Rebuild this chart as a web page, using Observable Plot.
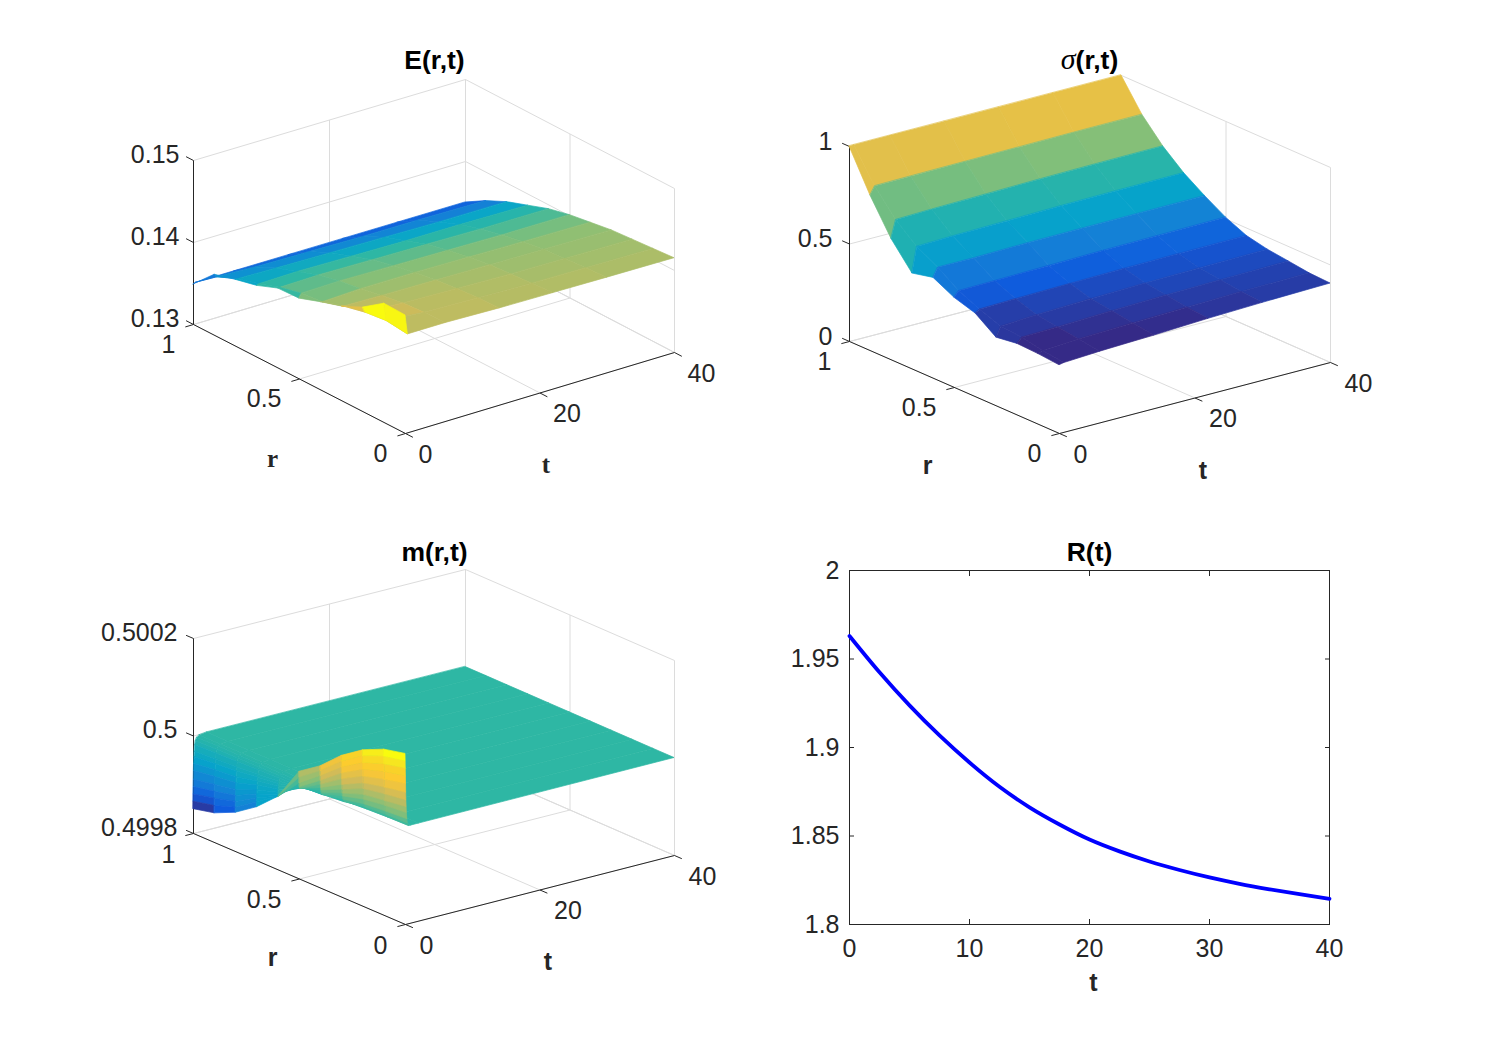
<!DOCTYPE html>
<html>
<head>
<meta charset="utf-8">
<script src="https://cdn.jsdelivr.net/npm/d3@7"></script>
<script src="https://cdn.jsdelivr.net/npm/@observablehq/plot@0.6"></script>
<style>
html,body{margin:0;padding:0;background:#fff}
#page{position:relative;width:1488px;height:1038px;overflow:hidden;background:#fff}
#page svg{position:absolute;background:transparent;overflow:visible}
</style>
</head>
<body>
<div id="page"></div>
<script>
// ---- data ----
const rGrid = [1, .9, .8, .7, .6, .5, .4, .3, .2, .1, 0];
const tTicks3D = [0, 20, 40];
const rTicks3D = [0, .5, 1];

const eTimes = [0, .35, 6, 14, 22, 30, 40];
const eRows = [
  [.13488,.1374,.1381,.1387,.1397,.1398,.1407,.1415,.1427,.1445,.1444],
  [.1350,.1370,.1381,.1388,.1397,.1403,.1406,.1414,.1420,.1423,.1420],
  [.1350,.1368,.1380,.1389,.1398,.1404,.1408,.1413,.1417,.1419,.1420],
  [.1350,.1367,.1379,.1388,.1397,.1403,.1408,.1412,.1415,.1417,.1418],
  [.1350,.1366,.1378,.1387,.1396,.1402,.1407,.1411,.1413,.1415,.1417],
  [.1350,.1366,.1377,.1387,.1395,.1401,.1406,.1410,.1412,.1414,.1416],
  [.1350,.1365,.1377,.1386,.1395,.1401,.1405,.1409,.1411,.1413,.1415]
];
const eTicks = [.13, .14, .15];
const eColorStops = [.1350,.1363,.1377,.1386,.1397,.1408,.1424,.1432,.1437,.1441,.1445];

const sTimes = [0, .7, 6, 14, 22, 30, 40];
const sRows = [
  [1,.795,.62,.49,.515,.46,.427,.35,.365,.36,.35],
  [1,.836,.71,.62,.56,.487,.44,.40,.39,.37,.355],
  [1,.838,.715,.625,.56,.49,.445,.41,.395,.38,.365],
  [1,.84,.72,.63,.565,.495,.45,.42,.405,.39,.375],
  [1,.842,.725,.635,.567,.5,.455,.427,.413,.398,.388],
  [1,.844,.728,.638,.568,.503,.458,.432,.418,.405,.397],
  [1,.845,.73,.64,.57,.507,.46,.437,.424,.41,.405]
];
const sTicks = [0, .5, 1];
const sColorStops = [.37,.445,.50,.57,.65,.73,.81,.88,.94,.98,1];

const mTimes = [0, .02, .04, .06, .08, .1, .13, .17, .2, .27, .35, .55, .9, 2, 40];
// m(r,t) read as its deviation from 0.5, in units of 1e-5
const mDeviation = [
  [-15,-14,-12,-9,-5,2,5,9,12,14,15],
  [-13.5,-12.5,-11,-8,-5,.8,4,7.8,10.8,12.6,13.5],
  [-12,-11,-9.8,-7.2,-5,-.4,3,6.6,9.4,11,12],
  [-10.5,-9.6,-8.6,-6.4,-4.6,-1.2,2,5.4,8,9.4,10.4],
  [-9,-8.2,-7.4,-5.6,-4.2,-1.5,1.2,4.2,6.6,7.8,8.8],
  [-7.2,-6.6,-6,-4.6,-3.6,-1.5,.5,3,5.2,6.2,7],
  [-5.8,-5.2,-4.8,-3.8,-3,-1.5,0,2,4,4.8,5.4],
  [-4.4,-4,-3.6,-3,-2.5,-1.4,-.5,1.2,2.8,3.4,4],
  [-3.3,-3,-2.8,-2.4,-2,-1.3,-.8,.6,1.8,2.4,2.8],
  [-2,-1.8,-1.7,-1.5,-1.4,-1.2,-1,-.1,.8,1.2,1.5],
  [-1.2,-1.1,-1,-1,-.9,-1,-1,-.6,.2,.5,.6],
  [-.6,-.5,-.5,-.5,-.5,-.6,-.8,-.6,-.3,-.1,0],
  [-.2,-.2,-.2,-.2,-.2,-.3,-.4,-.4,-.2,-.1,0],
  [0,0,0,0,0,0,0,0,0,0,0],
  [0,0,0,0,0,0,0,0,0,0,0]
];
const mRows = mDeviation.map(row => row.map(d => .5 + d*1e-5));
const mTicks = [.4998, .5, .5002];
const mColorStops = [.49985,.49988,.49991,.49995,.5,.50003,.500065,.5001,.50012,.500135,.50015];

const parula = ["#352a87","#0f5cdd","#1481d6","#06a4ca","#2eb7a4","#87bf77","#d1bb59","#fec832","#f9d229","#f6e620","#f9fb0e"];

const rTimes = [0,2.5,5,7.5,10,12.5,15,17.5,20,22.5,25,27.5,30,32.5,35,37.5,40];
const rValues = [1.963,1.9425,1.9238,1.9068,1.8915,1.8778,1.8662,1.8565,1.848,1.8413,1.8356,1.8308,1.8266,1.823,1.8199,1.8171,1.8145];
const rPanelXTicks = [0,10,20,30,40];
const rPanelYTicks = [1.8,1.85,1.9,1.95,2];

// ---- layout ----
const FONT = "Liberation Sans";
const TICK_SIZE = 25, TITLE_SIZE = 26.5, LABEL_SIZE = 25;
const INK = "#262626", GRID = "#dcdcdc";
const page = document.getElementById("page");
const W = 744, H = 519;

function place(svg, ox, oy){ svg.style.left = ox+"px"; svg.style.top = oy+"px"; page.appendChild(svg); return svg; }

function surfacePanel(p){
  const [z0, z1] = [p.zTicks[0], p.zTicks[p.zTicks.length-1]];
  const proj = (t, r, z) => ({
    x: p.O[0] + (t/40)*(p.T[0]-p.O[0]) + r*(p.R[0]-p.O[0]) + (t/40)*r*(p.B[0]-p.T[0]-p.R[0]+p.O[0]),
    y: p.O[1] + (t/40)*(p.T[1]-p.O[1]) + r*(p.R[1]-p.O[1]) + (t/40)*r*(p.B[1]-p.T[1]-p.R[1]+p.O[1]) - (z-z0)/(z1-z0)*p.h
  });
  const seg = (a, b) => { const A = proj(...a), B = proj(...b); return {x1:A.x,y1:A.y,x2:B.x,y2:B.y}; };

  const grid = [];
  for (const z of p.zTicks){
    grid.push(seg([0,1,z],[40,1,z]), seg([40,1,z],[40,0,z]));
  }
  for (const t of tTicks3D){
    grid.push(seg([t,1,z0],[t,1,z1]), seg([t,0,z0],[t,1,z0]));
  }
  for (const r of rTicks3D){
    grid.push(seg([40,r,z0],[40,r,z1]), seg([0,r,z0],[40,r,z0]));
  }
  const axes = [seg([0,1,z0],[0,1,z1]), seg([0,0,z0],[0,1,z0]), seg([0,0,z0],[40,0,z0])];
  for (const z of p.zTicks) axes.push(seg([0,1,z],[0,1.035,z]));
  for (const r of rTicks3D) axes.push(seg([0,r,z0],[-1.2,r,z0]));
  for (const t of tTicks3D) axes.push(seg([t,0,z0],[t,-.035,z0]));

  const quads = [];
  let q = 0;
  for (let j = p.times.length-2; j >= 0; j--){
    for (let i = 0; i < rGrid.length-1; i++){
      const c = p.rows[(j===0 && p.curtainNext) ? 1 : j][i+1];
      const a = proj(p.times[j], rGrid[i], p.rows[j][i]);
      const b = proj(p.times[j], rGrid[i+1], p.rows[j][i+1]);
      const d = proj(p.times[j+1], rGrid[i], p.rows[j+1][i]);
      const e = proj(p.times[j+1], rGrid[i+1], p.rows[j+1][i+1]);
      quads.push({q, c, x1:a.x, y1:a.y, x2:d.x, y2:d.y});
      quads.push({q, c, x1:b.x, y1:b.y, x2:e.x, y2:e.y});
      q++;
    }
  }

  const zLabels = p.zTicks.map(z => { const a = proj(0,1,z); return {x:a.x+p.zOff[0], y:a.y+p.zOff[1], s:p.zFmt(z)}; });
  const rLabels = rTicks3D.map(r => { const a = proj(0,r,z0); return {x:a.x+p.rOff[0], y:a.y+p.rOff[1], s:String(r)}; });
  const tLabels = tTicks3D.map(t => { const a = proj(t,0,z0); return {x:a.x+p.tOff[0], y:a.y+p.tOff[1], s:String(t)}; });
  const rMid = proj(0,.5,z0), tMid = proj(20,0,z0);

  const svg = Plot.plot({
    width: W, height: H, margin: 0,
    style: {background:"transparent", fontFamily: FONT},
    x: {domain:[p.ox, p.ox+W], range:[0,W], axis:null},
    y: {domain:[p.oy, p.oy+H], range:[0,H], axis:null},
    color: {type:"linear", domain:p.stops, range:parula, clamp:true},
    marks: [
      Plot.link(grid, {x1:"x1",y1:"y1",x2:"x2",y2:"y2",stroke:GRID,strokeWidth:1}),
      Plot.link(axes, {x1:"x1",y1:"y1",x2:"x2",y2:"y2",stroke:INK,strokeWidth:1}),
      Plot.area(quads, {x1:"x1",y1:"y1",x2:"x2",y2:"y2",z:"q",fill:"c",stroke:"c",strokeWidth:.7}),
      Plot.text(zLabels, {x:"x",y:"y",text:"s",textAnchor:"end",fontSize:TICK_SIZE,fill:INK}),
      Plot.text(rLabels, {x:"x",y:"y",text:"s",textAnchor:"end",fontSize:TICK_SIZE,fill:INK}),
      Plot.text(tLabels, {x:"x",y:"y",text:"s",textAnchor:"start",fontSize:TICK_SIZE,fill:INK}),
      Plot.text(["r"], {x:rMid.x+p.rLab[0], y:rMid.y+p.rLab[1], text:d=>d, fontSize:LABEL_SIZE, fontWeight:"bold", fill:INK, fontFamily:p.labFont}),
      Plot.text(["t"], {x:tMid.x+p.tLab[0], y:tMid.y+p.tLab[1], text:d=>d, fontSize:LABEL_SIZE, fontWeight:"bold", fill:INK, fontFamily:p.labFont}),
      Plot.text([p.title], {x:p.titleAt[0], y:p.titleAt[1], text:d=>d, fontSize:TITLE_SIZE, fontWeight:"bold", fill:"#000"})
    ]
  });
  return place(svg, p.ox, p.oy);
}

surfacePanel({
  ox:0, oy:0, title:"E(r,t)", titleAt:[434,60],
  O:[405,433], T:[674,352], R:[193,324], B:[465,243], h:164,
  zTicks:eTicks, zFmt:d3.format(".2f"), times:eTimes, rows:eRows, stops:eColorStops,
  zOff:[-14,-6], rOff:[-18,20], tOff:[13,21], rLab:[-27,80], tLab:[6,72], labFont:"Liberation Serif"
});
const sigmaSvg = surfacePanel({
  ox:744, oy:0, title:"σ(r,t)", titleAt:[1089,60],
  O:[1059,433], T:[1330,362], R:[849,341], B:[1121,270], h:195,
  zTicks:sTicks, zFmt:String, times:sTimes, rows:sRows, stops:sColorStops, curtainNext:true,
  zOff:[-17,-5], rOff:[-18,20], tOff:[14,21], rLab:[-27,78], tLab:[8,73], labFont:FONT
});
surfacePanel({
  ox:0, oy:519, title:"m(r,t)", titleAt:[434,552],
  O:[405,924], T:[674,855], R:[193,833], B:[465,764], h:195,
  zTicks:mTicks, zFmt:String, times:mTimes, rows:mRows, stops:mColorStops,
  zOff:[-16,-6], rOff:[-18,21], tOff:[14,21], rLab:[-27,79], tLab:[8,72], labFont:FONT
});

d3.select(sigmaSvg).selectAll("text").each(function(){
  if (this.textContent === "σ(r,t)"){
    const el = d3.select(this); el.text(null);
    el.append("tspan").attr("font-family","Liberation Serif").attr("font-style","italic").attr("font-weight","normal").attr("font-size","30").text("σ");
    el.append("tspan").text("(r,t)");
  }
});

const points = rTimes.map((t,i)=>({t, R:rValues[i]}));
const rPlot = Plot.plot({
  width:W, height:H,
  marginLeft:105, marginRight:159, marginTop:51, marginBottom:114,
  style:{background:"transparent", fontFamily:FONT, fontSize:TICK_SIZE+"px", color:INK},
  x:{domain:[0,40], label:null},
  y:{domain:[1.8,2], label:null},
  marks:[
    Plot.frame({stroke:INK, strokeWidth:1}),
    Plot.axisX({anchor:"bottom", ticks:rPanelXTicks, tickSize:-5, tickPadding:20, label:null, fontSize:TICK_SIZE, fill:INK, stroke:INK}),
    Plot.axisX({anchor:"top", ticks:rPanelXTicks, tickSize:-5, fill:"none", label:null, stroke:INK}),
    Plot.axisY({anchor:"left", ticks:rPanelYTicks, tickSize:-5, tickPadding:15, tickFormat:String, label:null, fontSize:TICK_SIZE, fill:INK, stroke:INK}),
    Plot.axisY({anchor:"right", ticks:rPanelYTicks, tickSize:-5, fill:"none", label:null, stroke:INK}),
    Plot.line(points, {x:"t", y:"R", stroke:"#0000ff", strokeWidth:3.8, curve:"monotone-x"}),
    Plot.text(["R(t)"], {frameAnchor:"top", dy:-28, text:d=>d, fontSize:TITLE_SIZE, fontWeight:"bold", fill:"#000"}),
    Plot.text(["t"], {frameAnchor:"bottom", dy:66, dx:4, text:d=>d, fontSize:LABEL_SIZE, fontWeight:"bold", fill:INK})
  ]
});
place(rPlot, 744, 519);
</script>
</body>
</html>
